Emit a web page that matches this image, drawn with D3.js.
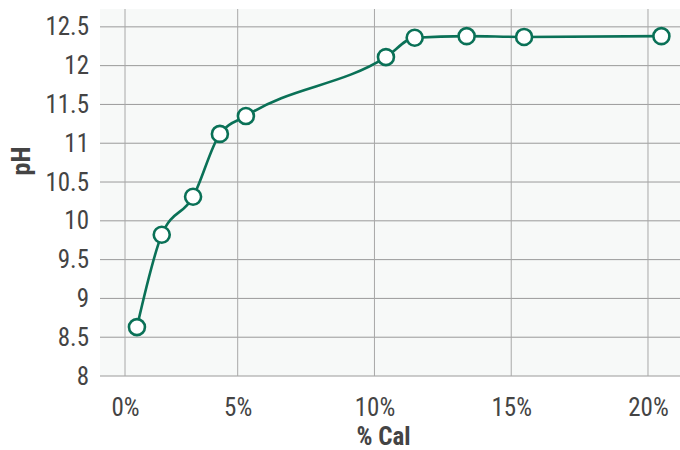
<!DOCTYPE html>
<html>
<head>
<meta charset="utf-8">
<script src="https://cdn.jsdelivr.net/npm/d3@7"></script>
<style>
  body { margin: 0; background: #fff; }
  text { font-family: "Liberation Sans Narrow", "Roboto Condensed", "Arial Narrow", Roboto, sans-serif; fill: #444; }
</style>
</head>
<body>
<div id="chart"></div>
<script>
// % Cal vs pH
const calPct = [0.53, 1.63, 3.02, 4.21, 5.3, 10.42, 11.47, 13.37, 15.47, 20.49];
const phVals = [8.63, 9.82, 10.31, 11.12, 11.35, 12.11, 12.36, 12.38, 12.37, 12.38];
const xTicks = [0, 5, 10, 15, 20];
const yTicks = [8, 8.5, 9, 9.5, 10, 10.5, 11, 11.5, 12, 12.5];

const svgWidth = 680,
  svgHeight = 450,
  margin = { top: 9, right: 0, bottom: 74, left: 100 },
  width = svgWidth - margin.left - margin.right,
  height = svgHeight - margin.top - margin.bottom;

const green = "#0a7157";

// the x axis of the original is not uniform: 0-5% is narrower than the rest
const x = d3.scaleLinear()
  .domain([-1.1, 0, 5, 21.17])
  .range([0, 25, 137.7, width]);

const y = d3.scaleLinear().domain([8, 12.73]).range([height, 0]);

const svg = d3.select("#chart")
  .append("svg")
  .attr("width", svgWidth)
  .attr("height", svgHeight);

const g = svg.append("g")
  .attr("transform", "translate(" + margin.left + "," + margin.top + ")");

// plot background
g.append("rect")
  .attr("width", width)
  .attr("height", height)
  .attr("fill", "#f7f9f8");

// grid
g.append("g")
  .selectAll("line")
  .data(yTicks)
  .enter()
  .append("line")
  .attr("x1", 0)
  .attr("x2", width)
  .attr("y1", d => y(d))
  .attr("y2", d => y(d))
  .attr("stroke", "#9a9a9a")
  .attr("stroke-width", 1);

g.append("g")
  .selectAll("line")
  .data(xTicks)
  .enter()
  .append("line")
  .attr("x1", d => x(d))
  .attr("x2", d => x(d))
  .attr("y1", 0)
  .attr("y2", height)
  .attr("stroke", "#a8a8a8")
  .attr("stroke-width", 1);

// axes (labels only)
const xAxis = d3.axisBottom(x)
  .tickValues(xTicks)
  .tickFormat(d => d + "%")
  .tickSize(0)
  .tickPadding(22);

const yAxis = d3.axisLeft(y)
  .tickValues(yTicks)
  .tickFormat(d => d)
  .tickSize(0)
  .tickPadding(11);

g.append("g")
  .attr("class", "x-axis")
  .attr("transform", "translate(0," + height + ")")
  .call(xAxis)
  .call(s => s.select(".domain").remove())
  .selectAll("text")
  .style("font-size", "25px")
  .style("fill", "#444");

g.append("g")
  .attr("class", "y-axis")
  .call(yAxis)
  .call(s => s.select(".domain").remove())
  .selectAll("text")
  .style("font-size", "25px")
  .style("fill", "#444");

// axis titles
svg.append("text")
  .attr("x", margin.left + x(10) + 9)
  .attr("y", 445)
  .attr("text-anchor", "middle")
  .style("font-size", "25px")
  .style("font-weight", "bold")
  .text("% Cal");

svg.append("text")
  .attr("transform", "translate(30,161) rotate(-90)")
  .attr("text-anchor", "middle")
  .style("font-size", "26px")
  .style("font-weight", "bold")
  .text("pH");

// line + markers
const data = calPct.map((c, i) => ({ x: c, y: phVals[i] }));

const line = d3.line()
  .x(d => x(d.x))
  .y(d => y(d.y))
  .curve(d3.curveMonotoneX);

g.append("path")
  .datum(data)
  .attr("fill", "none")
  .attr("stroke", green)
  .attr("stroke-width", 2.6)
  .attr("d", line);

g.append("g")
  .selectAll("circle")
  .data(data)
  .enter()
  .append("circle")
  .attr("cx", d => x(d.x))
  .attr("cy", d => y(d.y))
  .attr("r", 8)
  .attr("fill", "#fff")
  .attr("stroke", green)
  .attr("stroke-width", 2.6);
</script>
</body>
</html>
